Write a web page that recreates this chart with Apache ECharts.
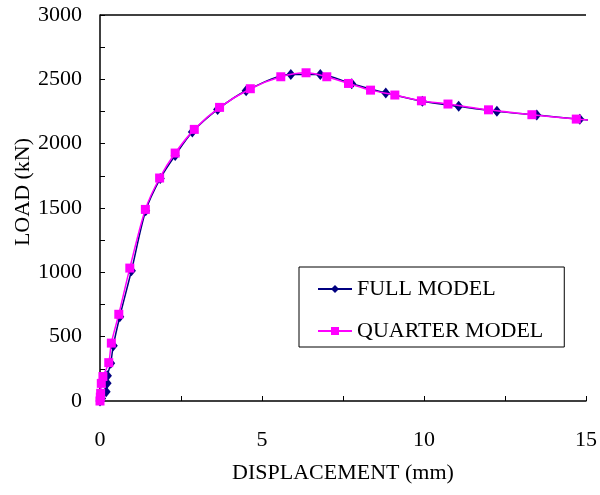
<!DOCTYPE html>
<html>
<head>
<meta charset="utf-8">
<script src="https://cdn.jsdelivr.net/npm/echarts@6/dist/echarts.min.js"></script>
<style>
  html, body { margin: 0; padding: 0; background: #fff; }
  #main { width: 600px; height: 495px; }
</style>
</head>
<body>
<div id="main"></div>
<script>
// full model (diamonds)
var fullX = [0, 0.05, 0.19, 0.22, 0.23, 0.33, 0.41, 0.61, 0.97, 1.41, 1.86, 2.32, 2.85, 3.63, 4.51, 5.89, 6.80, 7.77, 8.82, 9.95, 11.07, 12.25, 13.48, 14.81, 15.3]
var fullY = [0, 20, 72, 137, 197, 293, 430, 655, 1012, 1479, 1730, 1909, 2090, 2266, 2411, 2538, 2538, 2465, 2393, 2330, 2290, 2251, 2222, 2189, 2180]
// quarter model (squares)
var quarterX = [0, 0.01, 0.02, 0.04, 0.09, 0.27, 0.35, 0.58, 0.92, 1.40, 1.84, 2.32, 2.91, 3.69, 4.64, 5.58, 6.36, 7.00, 7.67, 8.35, 9.10, 9.92, 10.74, 11.99, 13.33, 14.70, 15.3]
var quarterY = [0, 30, 60, 137, 190, 298, 450, 674, 1033, 1489, 1733, 1927, 2111, 2282, 2427, 2520, 2551, 2520, 2468, 2416, 2378, 2333, 2308, 2263, 2225, 2191, 2178]

var seriesNames = ['FULL MODEL', 'QUARTER MODEL']
var xTicks = [0, 15, 5]      // min, max, interval
var yTicks = [0, 3000, 500]

function pairs(xs, ys) {
  return xs.map((x, i) => [x, ys[i]])
}

// split line colours: only the last one (plot frame) is visible
function frameColors(count, color) {
  var arr = []
  for (var i = 0; i < count; i++) arr.push('rgba(0,0,0,0)')
  arr.push(color)
  return arr
}

var font = 'Liberation Serif'

function draw() {
  var myChart = echarts.init(document.getElementById('main'))
  var option = {
    backgroundColor: '#fff',
    animation: false,
    grid: { left: 100, right: 11, top: 15, bottom: 94 },
    legend: {
      data: seriesNames,
      orient: 'vertical',
      left: 299, top: 267,
      borderColor: '#000', borderWidth: 1,
      padding: [11, 21, 5, 18],
      itemWidth: 34, itemHeight: 10, itemGap: 20,
      textStyle: { fontFamily: font, fontSize: 22, color: '#000' }
    },
    xAxis: {
      type: 'value',
      min: xTicks[0], max: xTicks[1], interval: xTicks[2],
      name: 'DISPLACEMENT (mm)',
      nameLocation: 'middle', nameGap: 61,
      nameTextStyle: { fontFamily: font, fontSize: 22, color: '#000' },
      axisLine: { lineStyle: { color: '#000', width: 1.5 } },
      axisTick: { inside: true, length: 5, lineStyle: { color: '#000' } },
      minorTick: { show: true, splitNumber: 2, length: 5, lineStyle: { color: '#000' } },
      axisLabel: { fontFamily: font, fontSize: 22, color: '#000', margin: 28 },
      splitLine: {
        show: true, showMinLine: false, showMaxLine: true,
        lineStyle: { color: frameColors(3, '#808080'), width: 2 }
      }
    },
    yAxis: {
      type: 'value',
      min: yTicks[0], max: yTicks[1], interval: yTicks[2],
      axisLine: { show: true, lineStyle: { color: '#000', width: 1.5 } },
      axisTick: { show: true, inside: true, length: 5, lineStyle: { color: '#000' } },
      minorTick: { show: true, splitNumber: 2, length: 5, lineStyle: { color: '#000' } },
      axisLabel: { fontFamily: font, fontSize: 22, color: '#000', margin: 18, formatter: v => String(v) },
      splitLine: {
        show: true, showMinLine: false, showMaxLine: true,
        lineStyle: { color: frameColors(5, '#000'), width: 1.5 }
      }
    },
    graphic: [{
      type: 'text',
      x: 23, y: 192,
      rotation: Math.PI / 2,
      style: {
        text: 'LOAD (kN)', font: '22px "Liberation Serif"', fill: '#000',
        align: 'center', verticalAlign: 'middle'
      }
    }],
    series: [{
      name: seriesNames[0],
      type: 'line',
      data: pairs(fullX, fullY),
      smooth: 0.3,
      symbol: 'diamond', symbolSize: [9, 11],
      itemStyle: { color: '#000080' },
      lineStyle: { color: '#000080', width: 1.5 },
      clip: true,
      z: 2
    }, {
      name: seriesNames[1],
      type: 'line',
      data: pairs(quarterX, quarterY),
      smooth: 0.3,
      symbol: 'rect', symbolSize: 9,
      itemStyle: { color: '#ff00ff' },
      lineStyle: { color: '#ff00ff', width: 1.5 },
      clip: true,
      z: 3
    }]
  }
  myChart.setOption(option)
}

window.onload = draw
</script>
</body>
</html>
